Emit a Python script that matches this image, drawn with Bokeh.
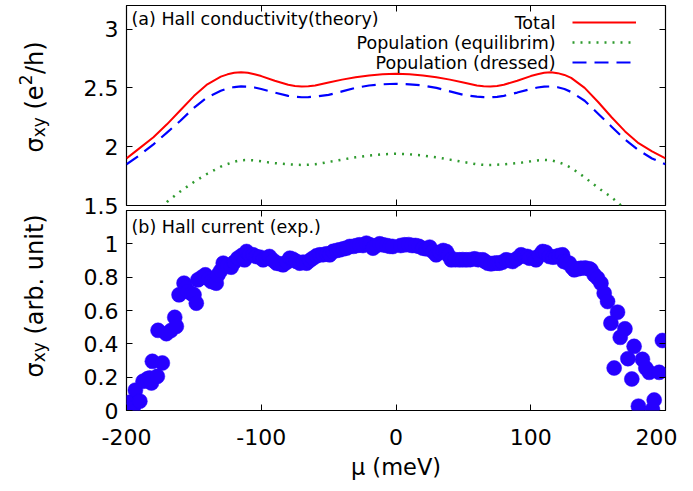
import numpy as np
from bokeh.plotting import figure
from bokeh.layouts import column, row
from bokeh.models import (FixedTicker, LinearAxis, Label, Legend, LegendItem,
                          CustomJSTickFormatter)
from bokeh.embed import file_html
from bokeh.resources import INLINE

# ---------------- data ----------------
mu_theory = [-200, -190, -180, -170, -160, -150, -140, -130, -125, -120, -115,
             -110, -105, -100, -90, -80, -75, -70, -65, -60, -50, -40, -30,
             -20, -10, 0, 10, 20, 30, 40, 50, 60, 65, 70, 75, 80, 90, 100,
             105, 110, 115, 120, 125, 130, 140, 150, 160, 170, 180, 190, 200]
total = [1.90, 1.99, 2.08, 2.19, 2.31, 2.43, 2.53, 2.595, 2.615, 2.628, 2.633,
         2.628, 2.615, 2.60, 2.56, 2.527, 2.516, 2.511, 2.513, 2.52, 2.545,
         2.57, 2.59, 2.605, 2.615, 2.62, 2.615, 2.605, 2.59, 2.57, 2.545,
         2.52, 2.513, 2.511, 2.516, 2.527, 2.56, 2.60, 2.615, 2.628, 2.633,
         2.625, 2.61, 2.585, 2.50, 2.38, 2.25, 2.13, 2.03, 1.96, 1.90]
pop_equil = [1.20, 1.30, 1.41, 1.53, 1.62, 1.70, 1.77, 1.83, 1.853, 1.872,
             1.885, 1.887, 1.883, 1.875, 1.86, 1.85, 1.847, 1.845, 1.846, 1.85,
             1.87, 1.89, 1.91, 1.925, 1.935, 1.94, 1.935, 1.925, 1.91, 1.89,
             1.87, 1.85, 1.846, 1.845, 1.847, 1.85, 1.86, 1.875, 1.883, 1.887,
             1.885, 1.87, 1.85, 1.82, 1.74, 1.65, 1.57, 1.47, 1.37, 1.28, 1.20]
pop_dressed = [1.85, 1.93, 2.02, 2.12, 2.22, 2.33, 2.42, 2.475, 2.495, 2.507,
               2.512, 2.51, 2.503, 2.49, 2.46, 2.432, 2.424, 2.42, 2.421,
               2.425, 2.44, 2.47, 2.50, 2.52, 2.53, 2.535, 2.53, 2.52, 2.50,
               2.47, 2.44, 2.425, 2.421, 2.42, 2.424, 2.432, 2.46, 2.49, 2.503,
               2.51, 2.512, 2.505, 2.49, 2.465, 2.39, 2.28, 2.17, 2.06, 1.97,
               1.90, 1.85]

mu_exp = [-197.6, -195.1, -193.4, -190.1, -187.7, -184.5, -182.8, -181.5, -180.8,
          -177.1, -176.6, -173.4, -170.4, -167.0, -164.2, -163.0, -161.0, -157.3,
          -156.0, -154.4, -151.5, -149.9, -148.2, -147.0, -144.0, -141.5, -139.0,
          -137.1, -134.8, -133.4, -132.1, -130.0, -128.2, -127.2, -125.0, -122.3,
          -120.0, -117.3, -114.5, -112.4, -110.9, -108.7, -106.0, -103.8, -101.0,
          -98.6, -96.0, -93.9, -91.0, -88.7, -86.0, -83.8, -81.0, -78.8, -76.6,
          -74.0, -71.4, -68.9, -66.4, -64.0, -61.6, -59.0, -56.6, -54.0, -51.5,
          -49.2, -46.7, -44.0, -41.8, -39.0, -36.5, -34.4, -31.5, -29.0, -27.0,
          -24.5, -22.0, -19.5, -17.1, -14.5, -12.1, -9.7, -7.0, -4.5, -2.3,
          3.5, 6.4, 9.5, 12.0, 14.5, 17.0, 19.9, 22.5, 25.0, 27.3, 29.8, 32.5,
          35.0, 37.3, 39.0, 41.0, 44.0, 47.1, 49.5, 52.1, 55.0, 58.2, 61.0, 64.4,
          66.0, 68.1, 70.5, 73.0, 75.0, 76.7, 79.0, 81.7, 84.0, 86.6, 89.5, 92.8,
          95.5, 97.7, 99.0, 102.7, 103.9, 106.5, 108.8, 111.0, 113.8, 116.5,
          118.7, 121.0, 123.6, 124.5, 126.5, 128.6, 130.5, 132.3, 135.0, 137.3,
          140.5, 143.4, 144.7, 147.1, 149.6, 152.1, 154.5, 157.0, 159.5, 161.9,
          164.4, 166.4, 169.9, 172.1, 175.0, 176.7, 179.9, 182.9, 185.4, 187.9,
          190.3, 191.6, 195.3, 197.7]
hall_exp = [0.050, 0.016, 0.122, 0.056, 0.175, 0.190, 0.195, 0.165, 0.295,
            0.205, 0.481, 0.285, 0.461, 0.480, 0.559, 0.505, 0.694, 0.764,
            0.735, 0.714, 0.700, 0.694, 0.644, 0.784, 0.800, 0.814, 0.790,
            0.774, 0.770, 0.764, 0.814, 0.840, 0.884, 0.874, 0.870, 0.860,
            0.890, 0.914, 0.930, 0.904, 0.954, 0.934, 0.934, 0.924, 0.920,
            0.904, 0.915, 0.924, 0.900, 0.884, 0.880, 0.874, 0.890, 0.914, 0.908,
            0.895, 0.884, 0.890, 0.884, 0.900, 0.914, 0.928, 0.934, 0.935, 0.940,
            0.934, 0.955, 0.960, 0.964, 0.970, 0.975, 0.984, 0.985, 0.990, 0.994,
            0.990, 1.004, 0.995, 0.974, 0.990, 1.000, 0.994, 0.990, 0.985, 0.984,
            0.990, 0.994, 0.995, 0.990, 0.990, 0.985, 0.974, 0.970, 0.980, 0.954, 0.934, 0.950,
            0.960, 0.954, 0.930, 0.904, 0.905, 0.904, 0.905, 0.904, 0.905, 0.910, 0.905, 0.904,
            0.895, 0.884, 0.880, 0.884, 0.885, 0.884, 0.890, 0.904, 0.900, 0.894, 0.910, 0.934,
            0.925, 0.924, 0.914, 0.914, 0.904, 0.930, 0.954, 0.950, 0.924, 0.920,
            0.924, 0.930, 0.934, 0.894, 0.890, 0.884, 0.860, 0.844, 0.850, 0.854,
            0.855, 0.850, 0.844, 0.814, 0.794, 0.764, 0.704, 0.654, 0.524, 0.255,
            0.590, 0.439, 0.490, 0.311, 0.189, 0.385, 0.026, 0.307, 0.255, 0.229,
            0.006, 0.063, 0.229, 0.420]

x_ticks = [-200, -100, 0, 100, 200]
x_labels = ["-200", "-100", "0", "100", "200"]
y1_ticks = [1.5, 2, 2.5, 3]
y1_labels = ["1.5", "2", "2.5", "3"]
y2_ticks = [0, 0.2, 0.4, 0.6, 0.8, 1]
y2_labels = ["0", "0.2", "0.4", "0.6", "0.8", "1"]

# ---------------- styling ----------------
FONT = "DejaVu Sans"
TICK_FS = "22px"
AX_FS = 24
SUB_FS = 17
TXT_FS = "17.5px"
RED = "#ff0000"
GREEN = "#2e9a2e"
BLUE = "#0000ff"
DOT = "#2600ff"
LEFT = 66      # left border of the panels (label strip is 60 px wide)
PAGE_H = 486


def style_axis(ax, ticks, labels=None, show_labels=True):
    ax.ticker = FixedTicker(ticks=ticks)
    ax.axis_line_color = None
    ax.major_tick_in = 6
    ax.major_tick_out = 0
    ax.minor_tick_line_color = None
    ax.major_tick_line_color = "black"
    ax.major_tick_line_width = 1
    if show_labels:
        ax.major_label_overrides = {t: l for t, l in zip(ticks, labels)}
        ax.major_label_text_font = FONT
        ax.major_label_text_font_size = TICK_FS
        ax.major_label_text_color = "black"
    else:
        ax.formatter = CustomJSTickFormatter(code="return ''")
        ax.major_label_standoff = 0


def base_fig(frame_h, y_range, top_border, bottom_border):
    p = figure(frame_width=539, frame_height=frame_h,
               x_range=(-200, 200), y_range=y_range,
               min_border_left=LEFT, min_border_right=12,
               min_border_top=top_border, min_border_bottom=bottom_border,
               output_backend="svg", toolbar_location=None)
    p.grid.visible = False
    p.outline_line_color = "black"
    p.outline_line_width = 1.2
    p.outline_line_alpha = 1
    return p


# ---------------- top panel ----------------
p1 = base_fig(200, (1.5, 3.2), 5, 15)
style_axis(p1.xaxis[0], x_ticks, show_labels=False)
style_axis(p1.yaxis[0], y1_ticks, y1_labels)
p1.yaxis[0].major_label_standoff = 8
ax_r = LinearAxis()
style_axis(ax_r, y1_ticks, show_labels=False)
p1.add_layout(ax_r, "right")
ax_t = LinearAxis()
style_axis(ax_t, x_ticks, show_labels=False)
p1.add_layout(ax_t, "above")

r_tot = p1.line(mu_theory, total, line_color=RED, line_width=2)
r_eq = p1.line(mu_theory, pop_equil, line_color=GREEN, line_width=2.5,
               line_dash="2 6")
r_dr = p1.line(mu_theory, pop_dressed, line_color=BLUE, line_width=2.2,
               line_dash="14 8")

leg = Legend(items=[LegendItem(label=" ", renderers=[r_tot]),
                    LegendItem(label=" ", renderers=[r_eq]),
                    LegendItem(label=" ", renderers=[r_dr])],
             location=(446, 133), glyph_width=64, glyph_height=20,
             label_height=20, label_width=0, label_standoff=0,
             label_text_font_size="1px", spacing=0, padding=0, margin=0,
             border_line_color=None, background_fill_alpha=0)
p1.add_layout(leg)

for txt, yy in [("Total", 183), ("Population (equilibrim)", 163),
                ("Population (dressed)", 143)]:
    p1.add_layout(Label(x=429, y=yy, x_units="screen", y_units="screen",
                        text=txt, text_font=FONT, text_font_size=TXT_FS,
                        text_align="right", text_baseline="middle",
                        text_color="black"))
p1.add_layout(Label(x=5, y=187, x_units="screen", y_units="screen",
                    text="(a) Hall conductivity(theory)", text_font=FONT,
                    text_font_size=TXT_FS, text_align="left",
                    text_baseline="middle", text_color="black"))

# ---------------- bottom panel ----------------
p2 = base_fig(200, (0, 1.2), 0, 0)
p2.margin = (-10, 0, 0, 0)
p2.border_fill_alpha = 0
p2.background_fill_alpha = 0
style_axis(p2.xaxis[0], x_ticks, x_labels)
p2.xaxis[0].major_label_standoff = 18
p2.xaxis[0].axis_label = "μ (meV)"
p2.xaxis[0].axis_label_text_font = FONT
p2.xaxis[0].axis_label_text_font_size = "22.5px"
p2.xaxis[0].axis_label_text_font_style = "normal"
p2.xaxis[0].axis_label_text_color = "black"
p2.xaxis[0].axis_label_standoff = 6
style_axis(p2.yaxis[0], y2_ticks, y2_labels)
p2.yaxis[0].major_label_standoff = 8
ax_r2 = LinearAxis()
style_axis(ax_r2, y2_ticks, show_labels=False)
p2.add_layout(ax_r2, "right")
ax_t2 = LinearAxis()
style_axis(ax_t2, x_ticks, show_labels=False)
p2.add_layout(ax_t2, "above")

p2.scatter(mu_exp, hall_exp, marker="circle", size=15, fill_color=DOT,
           line_color=DOT, line_width=0.5)

p2.add_layout(Label(x=5, y=184, x_units="screen", y_units="screen",
                    text="(b) Hall current (exp.)", text_font=FONT,
                    text_font_size=TXT_FS, text_align="left",
                    text_baseline="middle", text_color="black"))

# ---------------- y-axis titles (strip on the left) ----------------
lab = figure(width=60, height=PAGE_H, x_range=(0, 60), y_range=(0, PAGE_H),
             min_border=0, output_backend="svg", toolbar_location=None)
lab.axis.visible = False
lab.grid.visible = False
lab.outline_line_color = None


def ylabel_parts(parts, x_base, page_y_start):
    y = PAGE_H - page_y_start
    for text, fs, dx, adv in parts:
        lab.add_layout(Label(x=x_base + dx, y=y, x_units="screen",
                             y_units="screen", text=text, angle=np.pi / 2,
                             text_font=FONT, text_font_size=f"{fs}px",
                             text_align="left", text_baseline="alphabetic",
                             text_color="black"))
        y += adv


# advances include the word space after the subscript
ylabel_parts([("σ", AX_FS, 0, 15.2), ("xy", SUB_FS, 4, 27.7),
              ("(e", AX_FS, 0, 24.4), ("2", SUB_FS, -9, 11.2),
              ("/h)", AX_FS, 0, 0)], 34, 152)
ylabel_parts([("σ", AX_FS, 0, 15.2), ("xy", SUB_FS, 4, 27.7),
              ("(arb. unit)", AX_FS, 0, 0)], 34, 377)

layout = row(lab, column(p1, p2, spacing=0), spacing=0)
open("out.html", "w").write(file_html(layout, INLINE))
